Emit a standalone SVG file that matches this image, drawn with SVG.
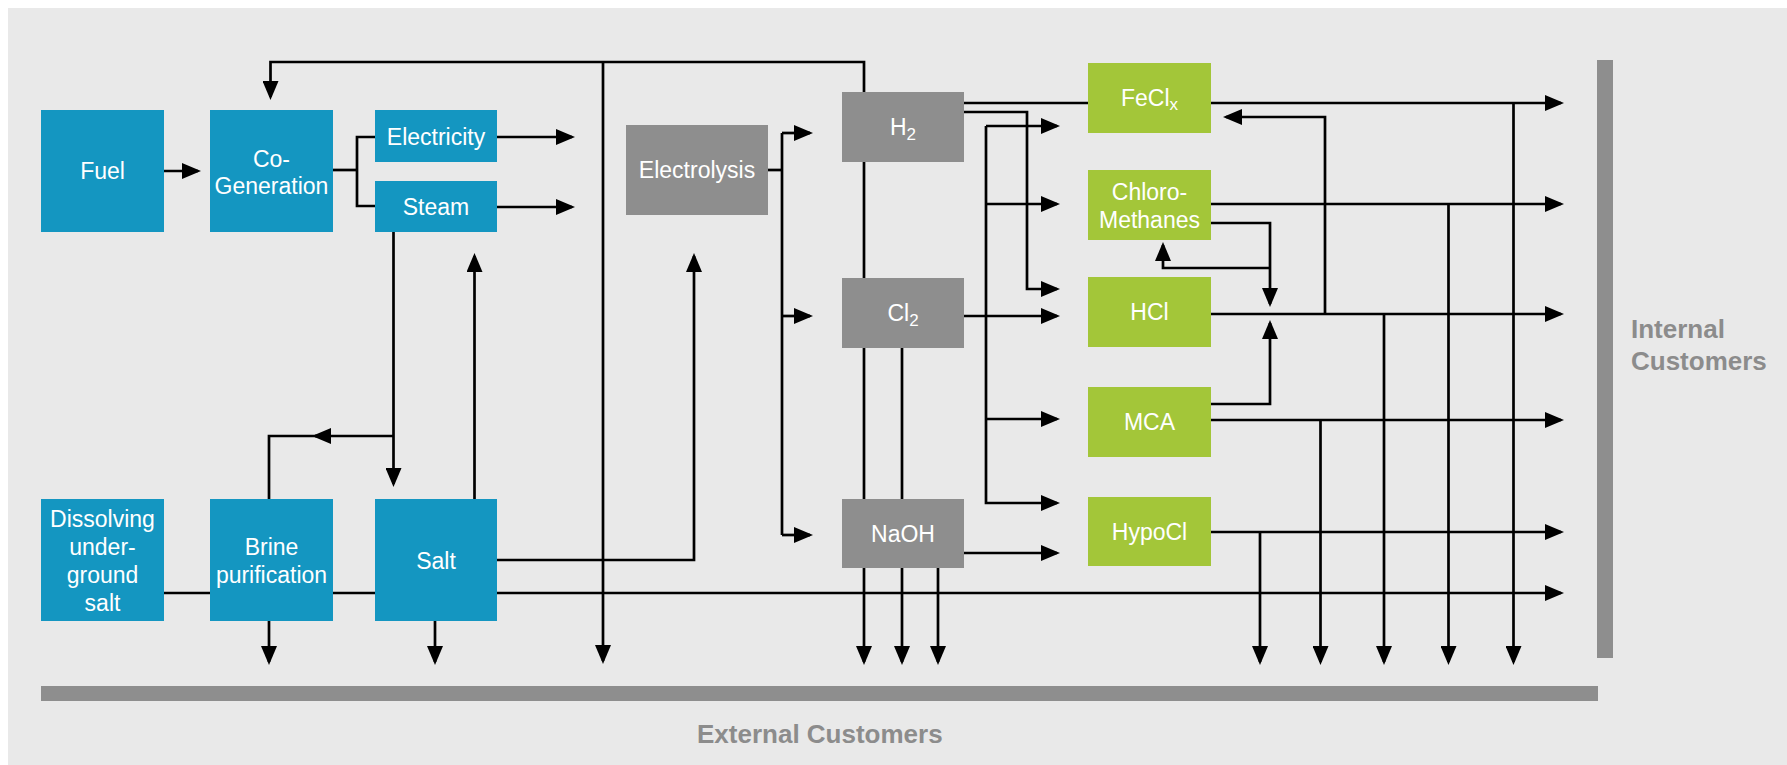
<svg xmlns="http://www.w3.org/2000/svg" width="1787" height="765" viewBox="0 0 1787 765">
<style>
.bl{fill:#1496c1}
.gr{fill:#a3c639}
.gy{fill:#8e8e8e}
.t{font-family:"Liberation Sans",Arial,sans-serif;font-size:23px;fill:#fff;text-anchor:middle}
.sub{font-size:17px}
.lab{font-family:"Liberation Sans",Arial,sans-serif;font-size:26px;font-weight:bold;fill:#8c8c8c}
.c path{fill:none;stroke:#000;stroke-width:2.7}
.c path.a{marker-end:url(#ah)}
</style>
<defs>
<marker id="ah" viewBox="0 0 19 16" refX="16" refY="8" markerWidth="19" markerHeight="16" markerUnits="userSpaceOnUse" orient="auto">
<path d="M0,0 L19,8 L0,16 z" fill="#000"/>
</marker>
</defs>
<rect x="0" y="0" width="1787" height="765" fill="#fff"/>
<rect x="8" y="8" width="1779" height="757" fill="#e9e9e9"/>

<g id="bars">
<rect x="41" y="686" width="1557" height="15" fill="#8e8e8e"/>
<rect x="1597" y="60" width="16" height="598" fill="#8e8e8e"/>
<text class="lab" x="697" y="743">External Customers</text>
<text class="lab" x="1631" y="338">Internal</text>
<text class="lab" x="1631" y="370">Customers</text>
</g>

<g class="c" id="connectors">
<path d="M864,92 V62 H270.5 V97" class="a"/>
<path d="M603,62 V661" class="a"/>
<path d="M164,171 H198" class="a"/>
<path d="M333,170 H357"/>
<path d="M375,137 H357 V206 H375"/>
<path d="M497,137 H572" class="a"/>
<path d="M497,207 H572" class="a"/>
<path d="M393.5,232 V484" class="a"/>
<path d="M393.5,436 H315" class="a"/>
<path d="M318,436 H269 V499"/>
<path d="M474.5,499 V256" class="a"/>
<path d="M269,621 V662" class="a"/>
<path d="M435,621 V662" class="a"/>
<path d="M164,593 H210"/>
<path d="M333,593 H375"/>
<path d="M497,593 H1561" class="a"/>
<path d="M497,560 H694 V256" class="a"/>
<path d="M768,170 H782"/>
<path d="M782,133 V535"/>
<path d="M782,133 H810" class="a"/>
<path d="M782,316 H810" class="a"/>
<path d="M782,535 H810" class="a"/>
<path d="M864,162 V662" class="a"/>
<path d="M902,348 V662" class="a"/>
<path d="M938,568 V662" class="a"/>
<path d="M964,103 H1088"/>
<path d="M964,112 H1027 V289 H1057" class="a"/>
<path d="M964,316 H1057" class="a"/>
<path d="M986,126 H1057" class="a"/>
<path d="M986,126 V503 H1057" class="a"/>
<path d="M986,204 H1057" class="a"/>
<path d="M986,419 H1057" class="a"/>
<path d="M964,553 H1057" class="a"/>
<path d="M1211,103 H1561" class="a"/>
<path d="M1325,314 V117 H1226" class="a"/>
<path d="M1210,204 H1561" class="a"/>
<path d="M1210,223 H1270 V304" class="a"/>
<path d="M1270,268 H1163 V245" class="a"/>
<path d="M1210,314 H1561" class="a"/>
<path d="M1210,404 H1270 V323" class="a"/>
<path d="M1210,420 H1561" class="a"/>
<path d="M1210,532 H1561" class="a"/>
<path d="M1513.5,103 V662" class="a"/>
<path d="M1448.5,204 V662" class="a"/>
<path d="M1384,314 V662" class="a"/>
<path d="M1320.5,420 V662" class="a"/>
<path d="M1260,532 V662" class="a"/>
</g>

<g id="fuel"><rect class="bl" x="41" y="110" width="123" height="122"/><text class="t" x="102.5" y="179">Fuel</text></g>
<g id="cogeneration"><rect class="bl" x="210" y="110" width="123" height="122"/><text class="t" x="271.5" y="167">Co-</text><text class="t" x="271.5" y="194">Generation</text></g>
<g id="electricity"><rect class="bl" x="375" y="110" width="122" height="52"/><text class="t" x="436" y="145">Electricity</text></g>
<g id="steam"><rect class="bl" x="375" y="181" width="122" height="51"/><text class="t" x="436" y="215">Steam</text></g>
<g id="dissolving"><rect class="bl" x="41" y="499" width="123" height="122"/><text class="t" x="102.5" y="527">Dissolving</text><text class="t" x="102.5" y="555">under-</text><text class="t" x="102.5" y="583">ground</text><text class="t" x="102.5" y="611">salt</text></g>
<g id="brine"><rect class="bl" x="210" y="499" width="123" height="122"/><text class="t" x="271.5" y="555">Brine</text><text class="t" x="271.5" y="583">purification</text></g>
<g id="salt"><rect class="bl" x="375" y="499" width="122" height="122"/><text class="t" x="436" y="569">Salt</text></g>
<g id="electrolysis"><rect class="gy" x="626" y="125" width="142" height="90"/><text class="t" x="697" y="178">Electrolysis</text></g>
<g id="h2"><rect class="gy" x="842" y="92" width="122" height="70"/><text class="t" x="903" y="135">H<tspan class="sub" dy="5">2</tspan></text></g>
<g id="cl2"><rect class="gy" x="842" y="278" width="122" height="70"/><text class="t" x="903" y="321">Cl<tspan class="sub" dy="5">2</tspan></text></g>
<g id="naoh"><rect class="gy" x="842" y="499" width="122" height="69"/><text class="t" x="903" y="542">NaOH</text></g>
<g id="fecl"><rect class="gr" x="1088" y="63" width="123" height="70"/><text class="t" x="1149.5" y="106">FeCl<tspan class="sub" dy="4">x</tspan></text></g>
<g id="chloromethanes"><rect class="gr" x="1088" y="170" width="123" height="70"/><text class="t" x="1149.5" y="200">Chloro-</text><text class="t" x="1149.5" y="228">Methanes</text></g>
<g id="hcl"><rect class="gr" x="1088" y="277" width="123" height="70"/><text class="t" x="1149.5" y="320">HCl</text></g>
<g id="mca"><rect class="gr" x="1088" y="387" width="123" height="70"/><text class="t" x="1149.5" y="430">MCA</text></g>
<g id="hypocl"><rect class="gr" x="1088" y="497" width="123" height="69"/><text class="t" x="1149.5" y="540">HypoCl</text></g>
</svg>
